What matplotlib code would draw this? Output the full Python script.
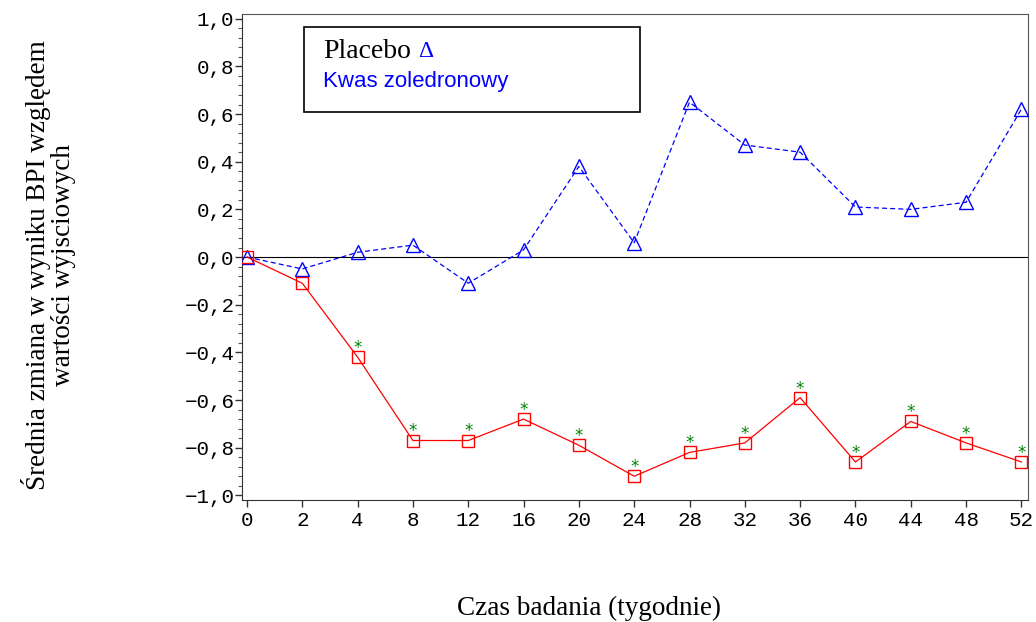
import matplotlib.pyplot as plt
from matplotlib.ticker import MultipleLocator, FuncFormatter

# Dane
tygodnie = ["0", "2", "4", "8", "12", "16", "20", "24", "28", "32", "36", "40", "44", "48", "52"]
kwas = [0.0, -0.05, 0.02, 0.05, -0.11, 0.03, 0.38, 0.06, 0.65, 0.47, 0.44, 0.21, 0.20, 0.23, 0.62]
placebo = [0.0, -0.11, -0.42, -0.77, -0.77, -0.68, -0.79, -0.92, -0.82, -0.78, -0.59, -0.86, -0.69, -0.78, -0.86]
istotne = [False, False, True, True, True, True, True, True, True, True, True, True, True, True, True]

x = list(range(len(tygodnie)))

fig = plt.figure(figsize=(10.36, 6.22), dpi=100)
ax = fig.add_axes([0.2336, 0.196, 0.7587, 0.7815])

ax.axhline(0, color="black", lw=0.8, zorder=1)

ax.plot(x, kwas, color="blue", ls=(0, (4, 2.5)), lw=0.9, marker="^", ms=10,
        mfc="none", mec="blue", mew=1.0, zorder=3)
ax.plot(x, placebo, color="red", ls="-", lw=0.9, marker="s", ms=9,
        mfc="none", mec="red", mew=1.0, zorder=3)

# Gwiazdki istotności
for xi, yi, s in zip(x, placebo, istotne):
    if s:
        ax.annotate("*", (xi, yi), xytext=(0, 6.5), textcoords="offset points",
                    ha="center", va="center", color="green", fontsize=12,
                    fontfamily="DejaVu Sans")

ax.set_xlim(-0.09, 14.12)
ax.set_ylim(-1.02, 1.02)
ax.set_xticks(x)
ax.set_xticklabels(tygodnie)
ax.yaxis.set_major_locator(MultipleLocator(0.2))
ax.yaxis.set_minor_locator(MultipleLocator(0.04))
ax.yaxis.set_major_formatter(FuncFormatter(lambda v, p: ("%.1f" % v).replace(".", ",").replace("-", "\u2212")))

for lab in ax.get_xticklabels() + ax.get_yticklabels():
    lab.set_fontfamily("Liberation Mono")
    lab.set_fontsize(15)

ax.tick_params(axis="both", which="major", direction="out", length=5, width=1, color="#333333")
ax.tick_params(axis="y", which="major", pad=0.5)
ax.tick_params(axis="x", which="major", pad=3)
ax.tick_params(axis="y", which="minor", direction="out", length=3, width=0.8, color="#555555")
ax.tick_params(top=False, right=False)

for side in ["top", "right"]:
    ax.spines[side].set_color("#555555")
for side in ["left", "bottom"]:
    ax.spines[side].set_color("#333333")

# Opisy osi
fig.text(0.5685, 0.022, "Czas badania (tygodnie)", ha="center", va="center",
         fontfamily="Liberation Serif", fontsize=19.5)
fig.text(0.047, 0.574, "Średnia zmiana w wyniku BPI względem\nwartości wyjsciowych",
         ha="center", va="center", rotation=90, fontfamily="Liberation Serif",
         fontsize=19.5, linespacing=1.0)

# Legenda
ax.add_patch(plt.Rectangle((0.079, 0.798), 0.427, 0.175, transform=ax.transAxes,
                           fill=False, edgecolor="black", lw=1.2, zorder=4))
ax.text(0.103, 0.922, "Placebo", transform=ax.transAxes, fontfamily="Liberation Serif",
        fontsize=20, va="center", ha="left")
ax.text(0.224, 0.922, "\u0394", transform=ax.transAxes, fontfamily="Liberation Serif",
        fontsize=17, va="center", ha="left", color="blue")
ax.text(0.103, 0.862, "Kwas zoledronowy", transform=ax.transAxes, fontfamily="Liberation Sans",
        fontsize=16, va="center", ha="left", color="blue")

fig.savefig("out.png", dpi=100)
